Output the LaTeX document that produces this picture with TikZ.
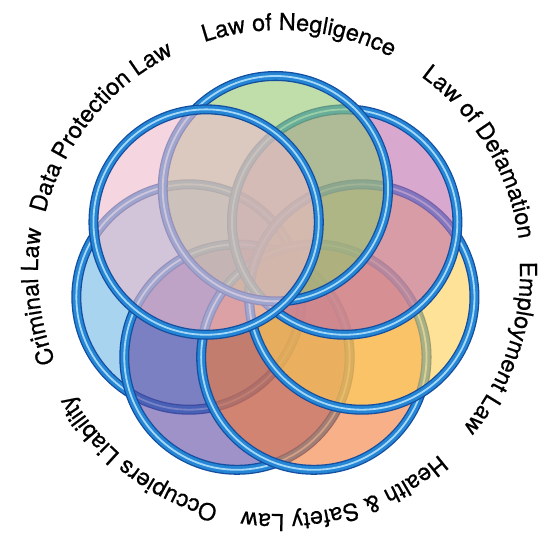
\documentclass[tikz,border=0pt]{standalone}
\usepackage{fontspec}
\newfontfamily\lawfont[FakeBold=0.6]{TeX Gyre Heros}
\usetikzlibrary{calc,decorations.text}

\definecolor{ringdark}{RGB}{20,78,160}
\definecolor{ringmid}{RGB}{38,134,214}
\definecolor{ringlight}{RGB}{165,216,246}
\definecolor{criminal}{RGB}{110,183,230}
\definecolor{occupiers}{RGB}{93,73,163}
\definecolor{safety}{RGB}{243,123,57}
\definecolor{employment}{RGB}{253,207,83}
\definecolor{defamation}{RGB}{190,110,175}
\definecolor{negligence}{RGB}{148,200,113}
\definecolor{dataprot}{RGB}{238,187,203}

\begin{document}
\begin{tikzpicture}[x=1pt,y=1pt,
  ring/.style={draw=ringdark,line width=10pt,
    postaction={draw=ringmid,line width=7.4pt},
    postaction={draw=ringlight,line width=1.8pt}},
  lens/.style={fill=#1,fill opacity=0.6},
  lawtext/.style={decorate,decoration={text along path,text align=center,
    text={|\lawfont\fontsize{23.4}{28}\selectfont|#1}}}]
\useasboundingbox (0,0) rectangle (538,540);

\coordinate (mid) at (275.4,262.7);
\coordinate (txt) at (280,268);

% circle centres, clockwise from the left
\coordinate (crim) at ($(mid)+(192.86:88.6)$);
\coordinate (occ) at ($(mid)+(244.29:88.6)$);
\coordinate (hs) at ($(mid)+(295.71:88.6)$);
\coordinate (emp) at ($(mid)+(347.14:88.6)$);
\coordinate (defam) at ($(mid)+(38.57:88.6)$);
\coordinate (negl) at ($(mid)+(90:88.6)$);
\coordinate (dp) at ($(mid)+(141.43:88.6)$);

% each circle covers the one before it
\fill[lens=criminal] (crim) circle[radius=112.7];
\draw[ring] (crim) circle[radius=112.7];
\fill[lens=occupiers] (occ) circle[radius=112.7];
\draw[ring] (occ) circle[radius=112.7];
\fill[lens=safety] (hs) circle[radius=112.7];
\draw[ring] (hs) circle[radius=112.7];
\fill[lens=employment] (emp) circle[radius=112.7];
\draw[ring] (emp) circle[radius=112.7];
\fill[lens=defamation] (defam) circle[radius=112.7];
\draw[ring] (defam) circle[radius=112.7];
\fill[lens=negligence] (negl) circle[radius=112.7];
\draw[ring] (negl) circle[radius=112.7];
\fill[lens=dataprot] (dp) circle[radius=112.7];
\draw[ring] (dp) circle[radius=112.7];

% labels round the outside
\path[lawtext={Law of Negligence}] (txt) ++(145.4:242) arc[start angle=145.4,end angle=25.4,radius=242];
\path[lawtext={Data Protection Law}] (txt) ++(201:242) arc[start angle=201,end angle=81,radius=242];
\path[lawtext={Law of Defamation}] (txt) ++(91:241) arc[start angle=91,end angle=-29,radius=241];
\path[lawtext={Employment Law}] (txt) ++(41:240) arc[start angle=41,end angle=-79,radius=240];
\path[lawtext={Health {\&} Safety Law}] (txt) ++(-14:242) arc[start angle=-14,end angle=-134,radius=242];
\path[lawtext={Occupiers Liability}] (txt) ++(292.8:242) arc[start angle=292.8,end angle=172.8,radius=242];
\path[lawtext={Criminal Law}] (txt) ++(245.8:242) arc[start angle=245.8,end angle=125.8,radius=242];
\end{tikzpicture}
\end{document}
